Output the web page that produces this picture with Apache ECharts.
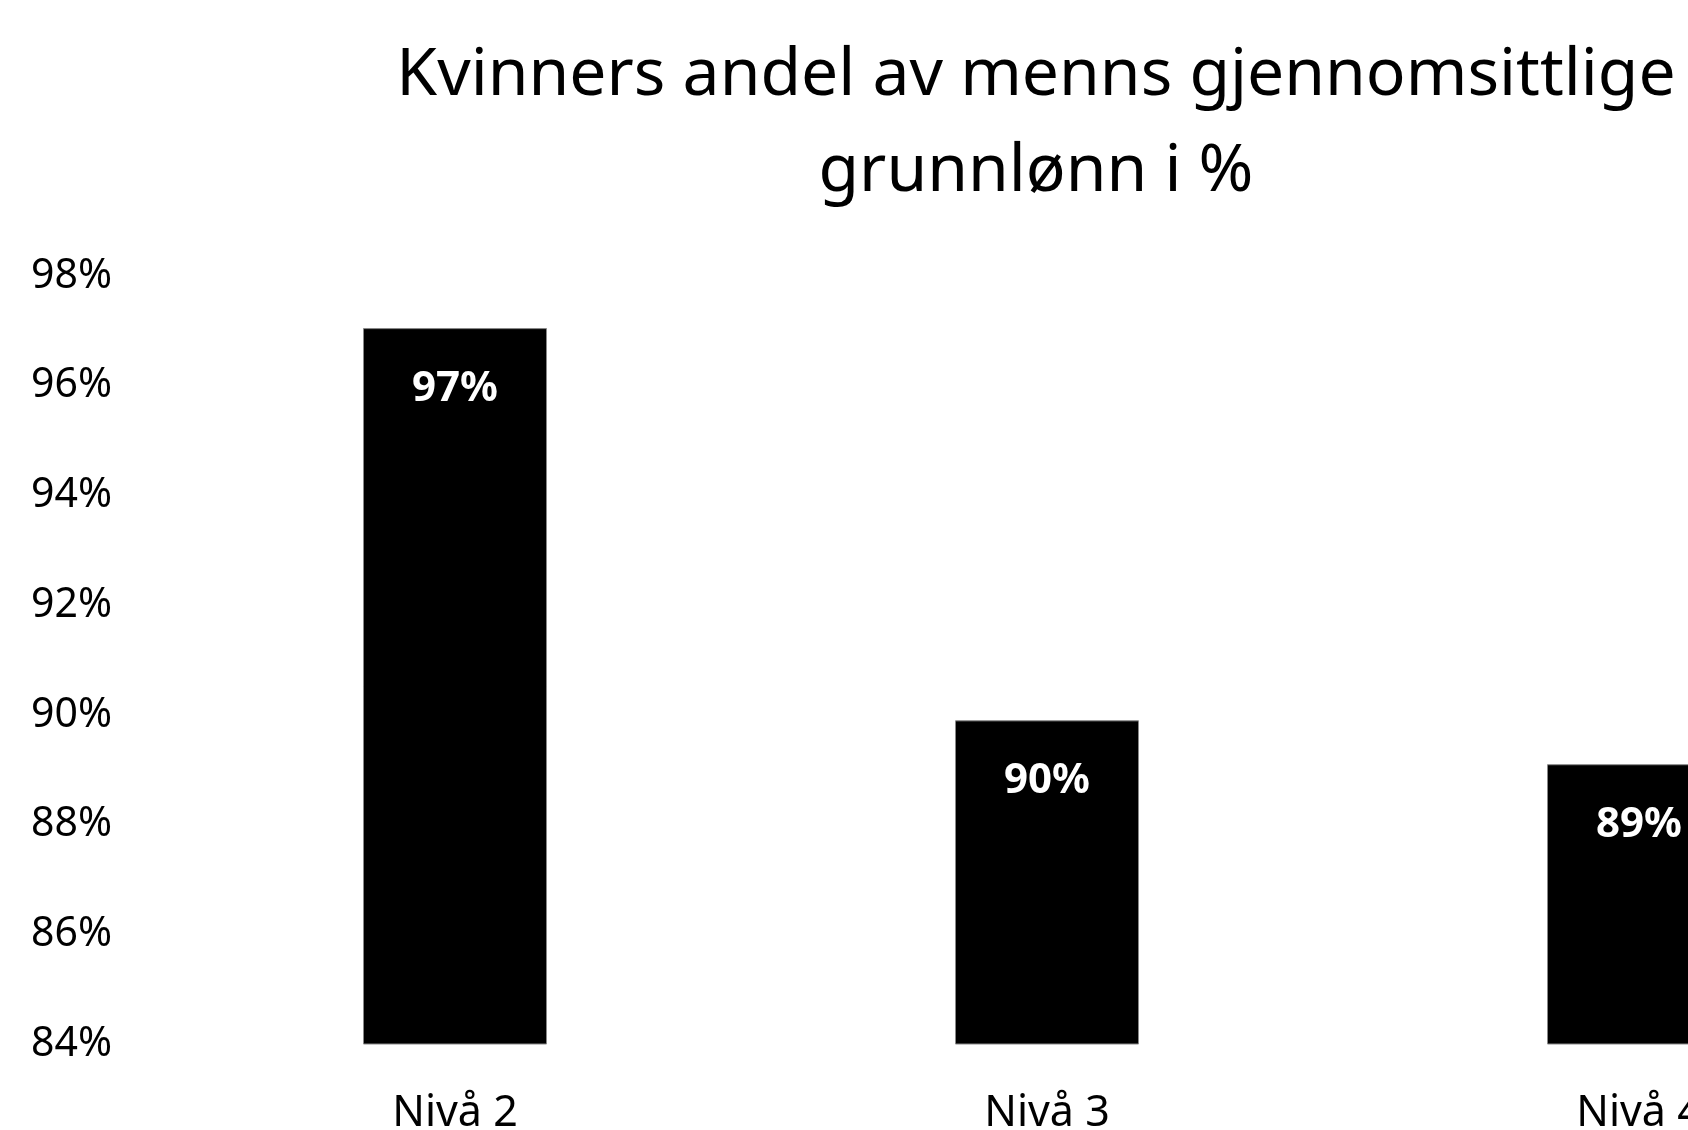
<!DOCTYPE html>
<html>
<head>
<meta charset="utf-8">
<title>Kvinners andel av menns gjennomsittlige grunnlønn</title>
<script src="https://cdn.jsdelivr.net/npm/echarts@6/dist/echarts.min.js"></script>
<style>
    html, body { margin: 0; padding: 0; background: #fff; overflow: hidden; }
    /* 原图右侧被裁掉, 所以容器比窗口宽 */
    #chart { width: 1935px; height: 1130px; }
</style>
</head>
<body>
<div id="chart"></div>
<script>
// 数据
var categories = ['Nivå 2', 'Nivå 3', 'Nivå 4'];
var shareValues = [97.05, 89.9, 89.1];
var yTicks = { min: 84, max: 98, interval: 2 };

(function () {
    // 1.初始化echarts实例对象
    var myChart = echarts.init(document.getElementById("chart"));

    var font = '"Noto Sans", "Open Sans", sans-serif';

    // 2.指定配置项与数据
    var option = {
        backgroundColor: '#fff',
        animation: false,
        title: {
            text: 'Kvinners andel av menns gjennomsittlige\ngrunnlønn i %',
            left: 1031,
            top: 23,
            textAlign: 'center',
            textStyle: {
                fontFamily: font,
                fontSize: 66,
                fontWeight: 'normal',
                color: '#000',
                lineHeight: 96
            }
        },
        grid: {//设置图表四周留白间距
            top: 276,
            bottom: 86,
            left: 159,
            right: 0,
            outerBoundsMode: 'none' // 不让标签挤压网格
        },
        xAxis: {
            type: 'category',
            data: categories,
            axisLine: { show: false },
            axisTick: { show: false },
            axisLabel: {
                margin: 48,
                fontFamily: font,
                fontSize: 43,
                color: '#000'
            }
        },
        yAxis: {
            type: 'value',
            min: yTicks.min,
            max: yTicks.max,
            interval: yTicks.interval,
            splitLine: { show: false },
            axisLine: { show: false },
            axisTick: { show: false },
            axisLabel: {
                margin: 47,
                fontFamily: font,
                fontSize: 41,
                color: '#000',
                formatter: '{value}%'
            }
        },
        series: [{
            type: 'bar',
            data: shareValues,
            barWidth: 184,
            itemStyle: {
                color: '#000',
                borderColor: '#888',
                borderWidth: 1
            },
            label: {
                show: true,
                position: 'insideTop',
                distance: 40,
                fontFamily: font,
                fontSize: 42,
                fontWeight: 'bold',
                color: '#fff',
                formatter: function (p) {
                    return Math.round(p.value) + '%';
                }
            }
        }]
    };

    // 3.将配置项设置给echarts实例对象
    myChart.setOption(option);
})();
</script>
</body>
</html>
